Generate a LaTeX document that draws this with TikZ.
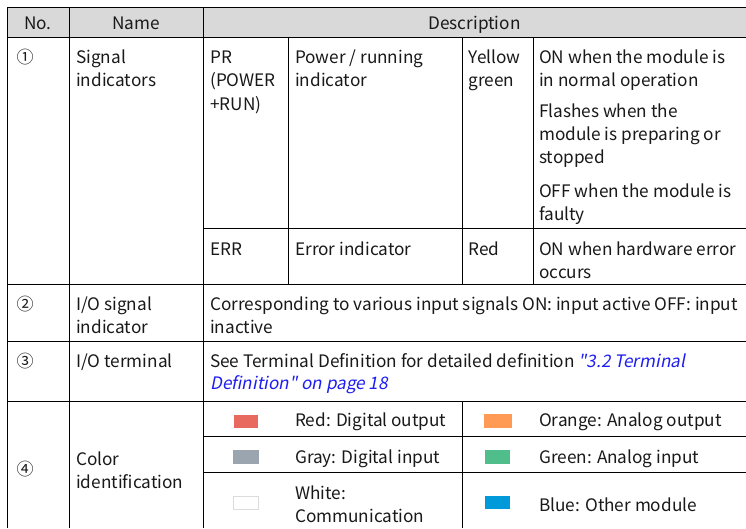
\documentclass[tikz,border=0pt]{standalone}
\usepackage{fontspec}
\setmainfont{Noto Sans CJK SC}
\newfontfamily\slfont[FakeSlant=0.2]{Noto Sans CJK SC}
\definecolor{ink}{RGB}{25,25,25}
\definecolor{headgray}{RGB}{217,217,217}
\definecolor{linkblue}{RGB}{30,30,240}
\definecolor{swred}{RGB}{232,106,95}
\definecolor{sworange}{RGB}{255,154,85}
\definecolor{swgray}{RGB}{155,165,175}
\definecolor{swgreen}{RGB}{80,190,138}
\definecolor{swblue}{RGB}{0,153,218}
\definecolor{swedge}{RGB}{220,220,220}
\tikzset{
  txt/.style={anchor=base west, inner sep=0pt, text=ink, font=\fontsize{17.2}{20}\selectfont},
  head/.style={anchor=base, inner sep=0pt, text=ink, font=\fontsize{17.2}{20}\selectfont},
  num/.style={anchor=center, inner sep=0pt, text=ink, font=\fontsize{17}{20}\selectfont},
  rule/.style={line width=1pt, black},
}
\newcommand{\lnk}[1]{\textcolor{linkblue}{\slfont #1}}
\begin{document}
\begin{tikzpicture}[x=1pt, y=-1pt]
\useasboundingbox (0,0) rectangle (746,528);
\fill[white] (0,0) rectangle (746,528);

% header band
\fill[headgray] (7,7) rectangle (746,37);

% horizontal rules
\draw[rule] (7,7) -- (746,7);
\draw[rule] (7,37) -- (746,37);
\draw[rule] (203,228.3) -- (746,228.3);
\draw[rule] (7,284) -- (746,284);
\draw[rule] (7,341.7) -- (746,341.7);
\draw[rule] (7,401.7) -- (746,401.7);
\draw[rule] (203,436.7) -- (746,436.7);
\draw[rule] (203,472.7) -- (746,472.7);

% vertical rules
\draw[rule] (7,7) -- (7,528);
\draw[rule] (69,7) -- (69,528);
\draw[rule] (203,7) -- (203,528);
\draw[rule] (288,37) -- (288,284);
\draw[rule] (462,37) -- (462,284);
\draw[rule] (533.5,37) -- (533.5,284);
\draw[rule] (462,401.7) -- (462,528);

% header
\node[head] (hno) at (38,29.5) {No.};
\node[head] (hname) at (136,29.5) {Name};
\node[head] (hdesc) at (474.5,29.5) {Description};

% row 1: signal indicators
\node[num] (n1) at (25,57) {①};
\node[txt] (name1a) at (76,63) {Signal};
\node[txt] (name1b) at (76,86.5) {indicators};
\node[txt] (pr1) at (210,63) {PR};
\node[txt] (pr2) at (210,86.5) {(POWER};
\node[txt] (pr3) at (210,110) {+RUN)};
\node[txt] (prd1) at (295,63) {Power / running};
\node[txt] (prd2) at (295,86.5) {indicator};
\node[txt] (prc1) at (468.5,63) {Yellow};
\node[txt] (prc2) at (468.5,86.5) {green};
\node[txt] (prs1) at (539,63) {ON when the module is};
\node[txt] (prs2) at (539,86.5) {in normal operation};
\node[txt] (prs3) at (539,117) {Flashes when the};
\node[txt] (prs4) at (539,140) {module is preparing or};
\node[txt] (prs5) at (539,163.5) {stopped};
\node[txt] (prs6) at (539,197) {OFF when the module is};
\node[txt] (prs7) at (539,220) {faulty};

\node[txt] (err1) at (210,255) {ERR};
\node[txt] (errd) at (295,255) {Error indicator};
\node[txt] (errc) at (468.5,255) {Red};
\node[txt] (errs1) at (539,255) {ON when hardware error};
\node[txt] (errs2) at (539,278) {occurs};

% row 2: I/O signal indicator
\node[num] (n2) at (25,304) {②};
\node[txt] (name2a) at (76,310) {I/O signal};
\node[txt] (name2b) at (76,333) {indicator};
\node[txt] (desc2a) at (210,310) {Corresponding to various input signals ON: input active OFF: input};
\node[txt] (desc2b) at (210,333) {inactive};

% row 3: I/O terminal
\node[num] (n3) at (25,361) {③};
\node[txt] (name3) at (76,367) {I/O terminal};
\node[txt] (desc3a) at (210,367) {See Terminal Definition for detailed definition \lnk{"3.2 Terminal}};
\node[txt] (desc3b) at (210,389) {\lnk{Definition" on page 18}};

% row 4: color identification
\node[num] (n4) at (25,469) {④};
\node[txt] (name4a) at (76,465) {Color};
\node[txt] (name4b) at (76,488) {identification};

\fill[swred] (234,415) rectangle (258,427.7);
\fill[swgray] (233,450) rectangle (259,463.7);
\filldraw[fill=white, draw=swedge, line width=0.8pt] (233.5,496.3) rectangle (258.5,509);
\fill[sworange] (484,414) rectangle (512,427.7);
\fill[swgreen] (485,450) rectangle (510,463.7);
\fill[swblue] (485,496) rectangle (510,509.3);

\node[txt] (cred) at (295,426.7) {Red: Digital output};
\node[txt] (cgray) at (295,463.3) {Gray: Digital input};
\node[txt] (cwhite1) at (295,499) {White:};
\node[txt] (cwhite2) at (295,522) {Communication};
\node[txt] (corange) at (539,426.7) {Orange: Analog output};
\node[txt] (cgreen) at (539,463.3) {Green: Analog input};
\node[txt] (cblue) at (539,511.7) {Blue: Other module};
\end{tikzpicture}
\end{document}
